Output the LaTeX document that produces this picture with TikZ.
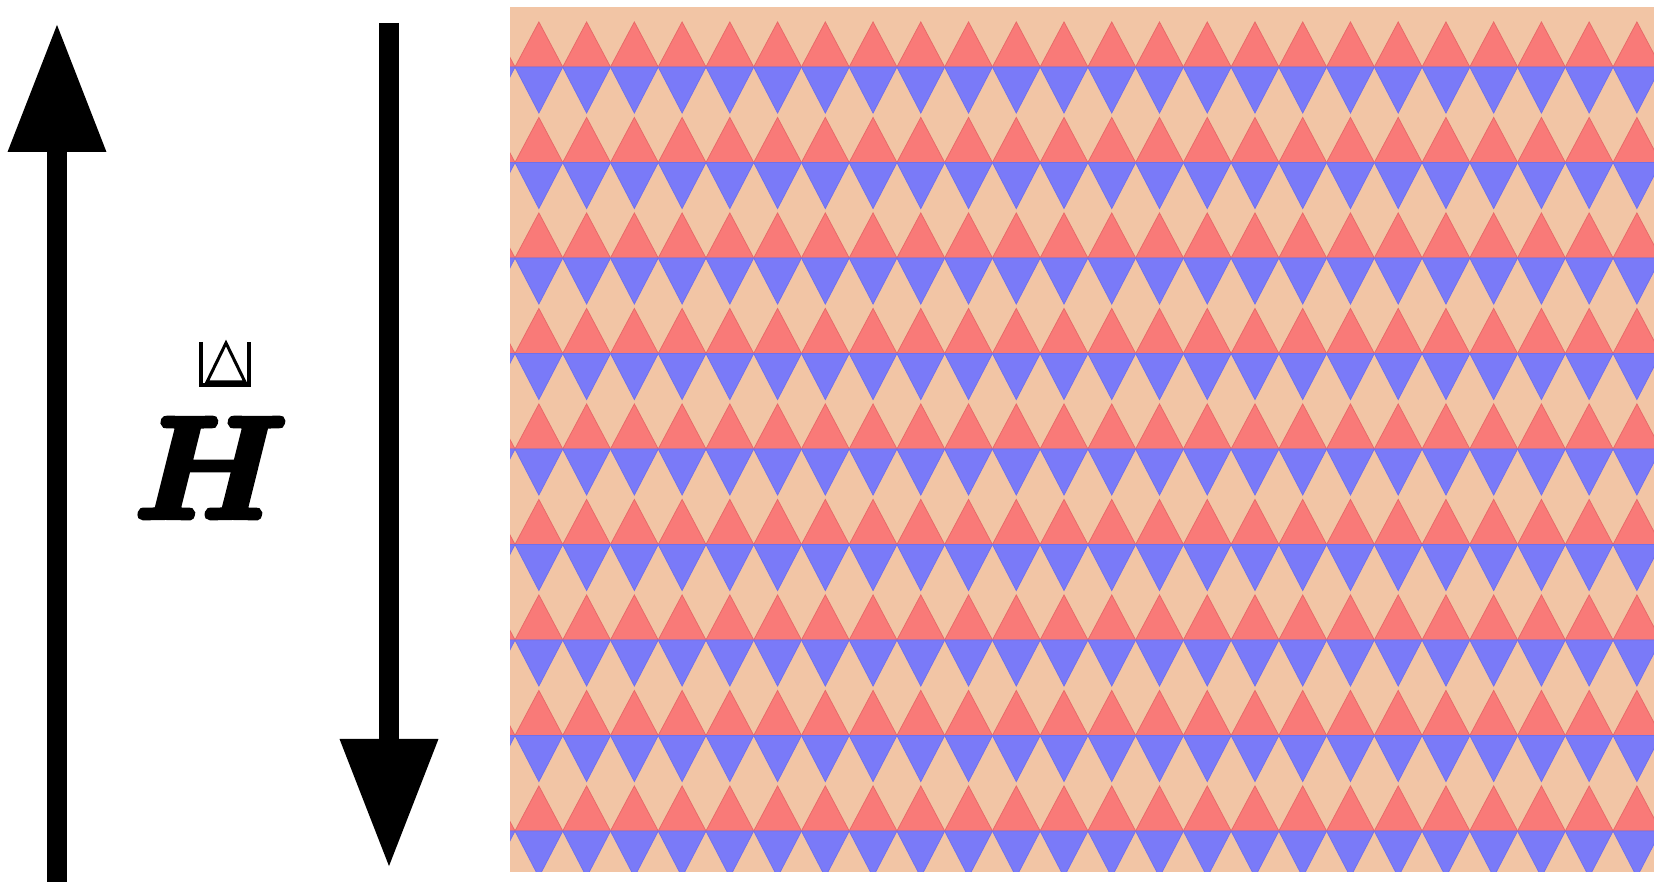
\documentclass[tikz,border=0pt]{standalone}
\usepackage{graphicx}
\usetikzlibrary{arrows.meta}
\definecolor{peach}{RGB}{242,197,165}
\definecolor{tred}{RGB}{249,122,120}
\definecolor{tredline}{RGB}{232,106,104}
\definecolor{tblue}{RGB}{122,122,248}
\definecolor{tblueline}{RGB}{112,112,236}
\tikzset{
  bigarrow/.style={line width=20pt, -{Triangle[length=129pt,width=93pt]}},
  redtri/.style={fill=tred, draw=tredline, line width=0.8pt},
  bluetri/.style={fill=tblue, draw=tblueline, line width=0.8pt},
  glyphline/.style={line width=3.5pt, line cap=butt, line join=miter},
  hlabel/.style={inner sep=0pt}
}
\newcommand{\strokedH}{\scalebox{14.4}{\special{pdf:literal direct 2 Tr 0.42 w 0 j}\boldmath$H$\special{pdf:literal direct 0 Tr}}}
\begin{document}
\begin{tikzpicture}[x=1pt,y=1pt]
\useasboundingbox (0,0) rectangle (1654,882);
% arrows
\coordinate (upstart) at (57,0);
\coordinate (uptip) at (57,859);
\coordinate (downstart) at (389,859);
\coordinate (downtip) at (389,14);
\draw[bigarrow] (upstart) -- (uptip);
\draw[bigarrow] (downstart) -- (downtip);
% label
\node[hlabel] (H) at (211,414) {\strokedH};
\draw[glyphline] (201,540) -- (201,497) -- (249,497) -- (249,540);
\draw[line width=3pt, line join=miter] (226,539) -- (207,500) -- (245,500) -- cycle;
% pattern
\fill[peach] (510,10) rectangle (1654,875);
\begin{scope}
\clip (510,10) rectangle (1654,875);
\foreach \k in {0,...,8}{
  \pgfmathsetmacro{\yb}{815-95.5*\k}
  \foreach \j in {-1,...,24}{
    \pgfmathsetmacro{\xa}{515+47.74*\j}
    \filldraw[redtri] (\xa,\yb) -- ({\xa+47.74},\yb) -- ({\xa+23.87},{\yb+45}) -- cycle;
    \filldraw[bluetri] (\xa,\yb) -- ({\xa+47.74},\yb) -- ({\xa+23.87},{\yb-46}) -- cycle;
  }
}
\end{scope}
\end{tikzpicture}
\end{document}
